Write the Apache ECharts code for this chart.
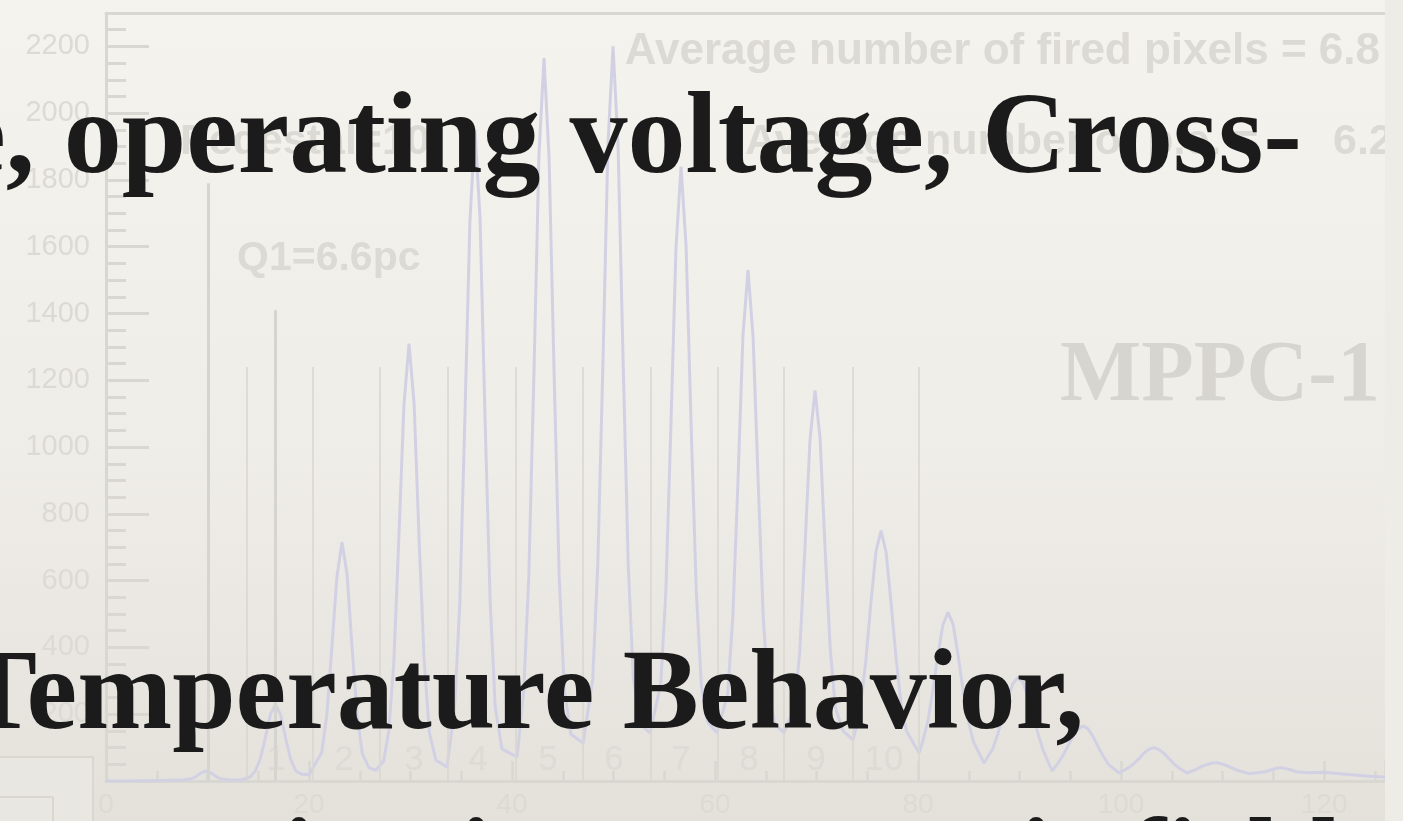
<!DOCTYPE html>
<html lang="en">
<head>
<meta charset="UTF-8">
<title>MPPC-1 photoelectron spectrum</title>
<script src="https://cdn.jsdelivr.net/npm/echarts@6/dist/echarts.min.js"></script>
<style>
  html, body { margin: 0; padding: 0; background: #f2f0eb; }
  #chart { width: 1403px; height: 821px; }
</style>
</head>
<body>
<div id="chart"></div>
<script>
// ADC spectrum (x = channel, y = entries)
const histX = [
  0, 2, 4, 6, 7.5, 8.35, 8.85, 9.35, 9.85, 10.35, 10.85, 11.35, 12.2, 13.3,
  14.2, 14.7, 15.2, 15.7, 16.2, 16.7, 17.2, 17.7, 18.2, 18.7, 19.3, 20.0,
  21.25, 21.75, 22.25, 22.75, 23.25, 23.75, 24.25, 24.75, 25.25, 25.9, 26.6,
  27.35, 27.85, 28.35, 28.85, 29.35, 29.85, 30.35, 30.85, 31.35, 31.85, 32.5, 33.6,
  34.35, 34.85, 35.35, 35.85, 36.35, 36.85, 37.35, 37.85, 38.35, 39.0, 40.5,
  41.15, 41.65, 42.15, 42.65, 43.15, 43.65, 44.15, 44.65, 45.15, 45.8, 47.0,
  47.95, 48.45, 48.95, 49.45, 49.95, 50.45, 50.95, 51.45, 51.95, 52.6, 53.6,
  54.65, 55.15, 55.65, 56.15, 56.65, 57.15, 57.65, 58.15, 58.65, 59.3, 60.2,
  61.25, 61.75, 62.25, 62.75, 63.25, 63.75, 64.25, 64.75, 65.25, 65.9, 66.8,
  67.85, 68.35, 68.85, 69.35, 69.85, 70.35, 70.85, 71.35, 71.85, 72.6, 73.6,
  73.85, 74.35, 74.85, 75.35, 75.85, 76.35, 76.85, 77.35, 77.85, 78.35, 78.85, 80.1,
  80.45, 80.95, 81.45, 81.95, 82.45, 82.95, 83.45, 83.95, 84.45, 84.95, 85.45, 86.5,
  87.35, 87.85, 88.35, 88.85, 89.35, 89.85, 90.35, 90.85, 91.35, 91.85, 92.35, 92.85, 93.2,
  93.75, 94.25, 94.75, 95.25, 95.75, 96.25, 96.75, 97.25, 97.75, 98.25, 98.75, 99.8,
  100.75, 101.25, 101.75, 102.25, 102.75, 103.25, 103.75, 104.25, 104.75, 105.25, 105.75, 106.5,
  107.35, 107.85, 108.35, 108.85, 109.35, 109.85, 110.35, 110.85, 111.35, 112.6,
  114.25, 114.75, 115.25, 115.75, 116.25, 116.75, 117.25,
  118.5, 120, 121.5, 123, 124.5, 126
];
const histY = [
  0, 0, 1, 2, 3, 6, 13, 24, 30, 24, 13, 6, 3, 3,
  12, 30, 66, 130, 200, 230, 198, 128, 64, 30, 20, 19,
  85, 196, 400, 612, 715, 620, 395, 195, 82, 40, 32,
  60, 148, 352, 728, 1125, 1310, 1130, 720, 358, 146, 62, 42,
  222, 528, 1082, 1676, 1950, 1685, 1075, 534, 220, 96, 72,
  270, 612, 1210, 1872, 2165, 1866, 1215, 608, 272, 140, 114,
  305, 650, 1245, 1906, 2200, 1900, 1250, 645, 308, 170, 144,
  290, 566, 1062, 1596, 1840, 1600, 1058, 570, 286, 175, 144,
  262, 492, 890, 1335, 1530, 1328, 895, 488, 264, 170, 144,
  224, 390, 695, 1020, 1170, 1025, 690, 395, 220, 150, 123,
  153, 227, 359, 532, 687, 750, 685, 530, 362, 225, 150, 84,
  118, 176, 270, 377, 468, 505, 470, 375, 268, 180, 118, 54,
  96, 140, 195, 250, 292, 310, 294, 248, 192, 138, 90, 55, 30,
  52, 75, 104, 133, 155, 165, 156, 132, 102, 74, 50, 24,
  40, 52, 66, 84, 95, 100, 94, 82, 66, 50, 38, 24,
  34, 42, 48, 53, 55, 52, 47, 40, 33, 22,
  28, 33, 38, 40, 37, 33, 28,
  25, 26, 22, 18, 14, 12
];

// integration window edges (thin grey lines)
const windowX = [13.9, 20.4, 27.0, 33.7, 40.4, 47.0, 53.7, 60.3, 66.8, 73.6, 80.1];
const windowTop = 1240;
// the two taller marker lines
const markerX = [10.05, 16.65];
const markerTop = [1790, 1410];

// peak numbers written under the peaks
const peakLabelX = [16.75, 23.45, 30.35, 36.65, 43.55, 50.05, 56.65, 63.35, 69.95, 76.65];
const peakLabels = ['1', '2', '3', '4', '5', '6', '7', '8', '9', '10'];
const peakLabelY = 63;

const frameGrey = '#d9d7d1';
const textGrey = '#dcdad5';
const lavender = '#d2d1e4';

const chart = echarts.init(document.getElementById('chart'));

const vLines = [];
windowX.forEach(x => {
  vLines.push([{ coord: [x, 0], lineStyle: { color: '#d8d6d0', width: 1.5, type: 'solid' } }, { coord: [x, windowTop] }]);
});
markerX.forEach((x, i) => {
  vLines.push([{ coord: [x, 0], lineStyle: { color: '#d6d4ce', width: 3, type: 'solid' } }, { coord: [x, markerTop[i]] }]);
});

chart.setOption({
  animation: false,
  backgroundColor: {
    type: 'linear', x: 0, y: 0, x2: 0, y2: 1,
    colorStops: [
      { offset: 0, color: '#f5f3ee' },
      { offset: 0.55, color: '#efede8' },
      { offset: 1, color: '#e4e1db' }
    ]
  },
  grid: { left: 106, right: 18, top: 13, bottom: 40 },
  xAxis: [{
    type: 'value', min: 0, max: 126, interval: 20,
    axisLine: { show: true, lineStyle: { color: frameGrey, width: 3 } },
    axisTick: { show: true, inside: true, length: 20, lineStyle: { color: frameGrey, width: 2.5 } },
    minorTick: { show: true, splitNumber: 4, length: 10, lineStyle: { color: frameGrey, width: 2.5 } },
    axisLabel: { color: textGrey, fontSize: 28, margin: 10, showMaxLabel: false, fontFamily: 'Liberation Sans' },
    splitLine: { show: false }
  }, {
    type: 'value', min: 0, max: 126, position: 'top',
    axisLine: { show: true, lineStyle: { color: frameGrey, width: 3 } },
    axisTick: { show: false }, axisLabel: { show: false }, splitLine: { show: false }
  }],
  yAxis: {
    type: 'value', min: 0, max: 2300, interval: 200,
    axisLine: { show: true, lineStyle: { color: frameGrey, width: 3 } },
    axisTick: { show: true, inside: true, length: 43, lineStyle: { color: frameGrey, width: 3 } },
    minorTick: { show: true, splitNumber: 4, length: 20, lineStyle: { color: frameGrey, width: 3 } },
    axisLabel: { color: textGrey, fontSize: 29, margin: 16, showMaxLabel: false, fontFamily: 'Liberation Sans',
      formatter: v => String(v) },
    splitLine: { show: false }
  },
  series: [{
    type: 'line',
    data: histX.map((x, i) => [x, histY[i]]),
    symbol: 'none',
    lineStyle: { color: lavender, width: 3 },
    z: 3,
    markLine: {
      silent: true,
      symbol: ['none', 'none'],
      label: { show: false },
      data: vLines
    }
  }, {
    type: 'scatter',
    data: peakLabelX.map((x, i) => ({ value: [x, peakLabelY], name: peakLabels[i] })),
    symbolSize: 0,
    itemStyle: { color: 'transparent' },
    label: {
      show: true, position: 'inside', formatter: '{b}',
      color: '#dad8d3', fontSize: 35, fontFamily: 'Liberation Sans'
    },
    z: 4
  }],
  graphic: [
    // small box in the lower left corner
    { type: 'rect', z: 1, shape: { x: -3, y: 757, width: 96, height: 70 },
      style: { fill: '#e9e7e2', stroke: '#dad7d1', lineWidth: 2 } },
    { type: 'line', z: 1, shape: { x1: 53, y1: 797, x2: 53, y2: 825 }, style: { stroke: '#dad7d1', lineWidth: 2 } },
    { type: 'line', z: 1, shape: { x1: -3, y1: 797, x2: 53, y2: 797 }, style: { stroke: '#dad7d1', lineWidth: 2 } },
    // stat box texts
    { type: 'text', z: 5, style: { text: 'Average number of fired pixels = 6.8', x: 1380, y: 52,
      textAlign: 'right', verticalAlign: 'middle', fill: textGrey, font: 'bold 44px "Liberation Sans", Arial, sans-serif' } },
    { type: 'text', z: 5, style: { text: 'Pedestal=10', x: 180, y: 142,
      textAlign: 'left', verticalAlign: 'middle', fill: textGrey, font: 'bold 43px "Liberation Sans", Arial, sans-serif' } },
    { type: 'text', z: 5, style: { text: 'Average number of p.e. =', x: 745, y: 142,
      textAlign: 'left', verticalAlign: 'middle', fill: textGrey, font: 'bold 43px "Liberation Sans", Arial, sans-serif' } },
    { type: 'text', z: 5, style: { text: '6.2', x: 1333, y: 142,
      textAlign: 'left', verticalAlign: 'middle', fill: textGrey, font: 'bold 43px "Liberation Sans", Arial, sans-serif' } },
    { type: 'text', z: 5, style: { text: 'Q1=6.6pc', x: 237, y: 259,
      textAlign: 'left', verticalAlign: 'middle', fill: textGrey, font: 'bold 41px "Liberation Sans", Arial, sans-serif' } },
    { type: 'text', z: 5, style: { text: 'MPPC-1', x: 1380, y: 378,
      textAlign: 'right', verticalAlign: 'middle', fill: '#d7d5d0', font: 'bold 86px "Liberation Serif", serif' } },
    // strip to the right of the plot image
    { type: 'rect', z: 6, shape: { x: 1385, y: 0, width: 20, height: 821 },
      style: { fill: '#eeece7' } },
    // slide text on top
    { type: 'text', z: 100, style: { text: 'Noise rate, operating voltage, Cross-', x: 1302, y: 142,
      textAlign: 'right', verticalAlign: 'middle', fill: '#1b1b1b', font: 'bold 116px "Liberation Serif", serif' } },
    { type: 'text', z: 100, style: { text: 'Temperature Behavior,', x: -39, y: 699,
      textAlign: 'left', verticalAlign: 'middle', fill: '#1b1b1b', font: 'bold 114px "Liberation Serif", serif' } },
    { type: 'text', z: 100, style: { text: 'Saturation in a magnetic field', x: -78, y: 866,
      textAlign: 'left', verticalAlign: 'middle', fill: '#1b1b1b', font: 'bold 112px "Liberation Serif", serif' } }
  ]
});
</script>
</body>
</html>
